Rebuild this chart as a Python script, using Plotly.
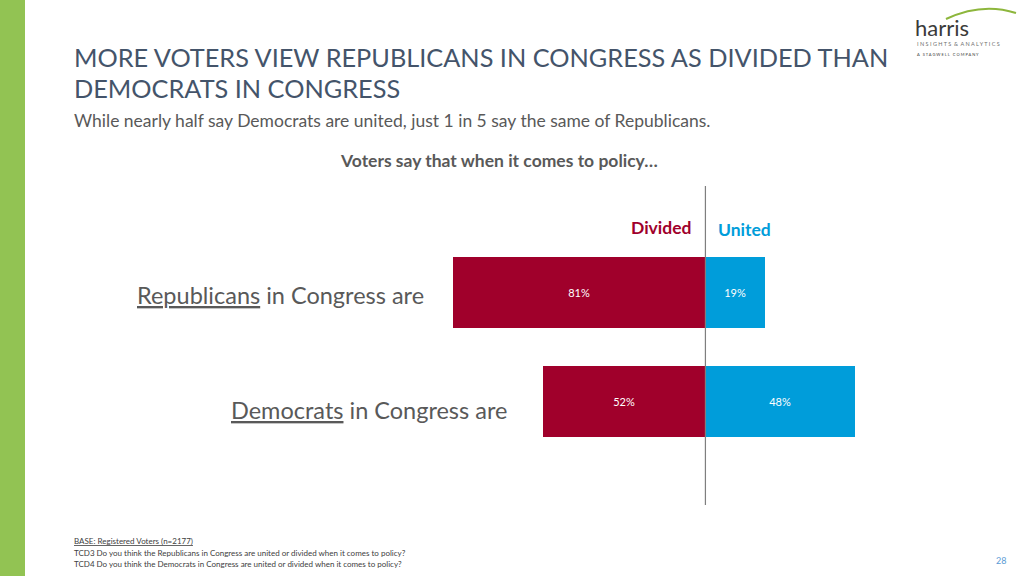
import plotly.graph_objects as go

categories = ["Republicans", "Democrats"]
divided = [81, 52]
united = [19, 48]

RED = "#A0002B"
BLUE = "#009DDA"
GRAY = "#595959"
TITLE = "#44546A"
FONT = "Lato, Open Sans, sans-serif"

W, H = 1024, 576

fig = go.Figure()
fig.add_trace(go.Bar(
    y=categories, x=[-v for v in divided], orientation="h",
    marker=dict(color=RED, line=dict(width=0)), width=0.65,
    text=[f"{v}%" for v in divided], textposition="inside", insidetextanchor="middle",
    textfont=dict(color="white", size=11, family=FONT), name="Divided", hoverinfo="skip"))
fig.add_trace(go.Bar(
    y=categories, x=united, orientation="h",
    marker=dict(color=BLUE, line=dict(width=0)), width=0.65,
    text=[f"{v}%" for v in united], textposition="inside", insidetextanchor="middle",
    textfont=dict(color="white", size=11, family=FONT), name="United", hoverinfo="skip"))

x0, x1 = 453, 855
fig.update_layout(
    width=W, height=H, margin=dict(l=0, r=0, t=0, b=0),
    paper_bgcolor="white", plot_bgcolor="white",
    barmode="relative", showlegend=False, bargap=0,
    font=dict(family=FONT, color=GRAY),
    xaxis=dict(domain=[x0 / W, x1 / W], range=[-divided[0], united[1]],
               showgrid=False, zeroline=False, showticklabels=False, ticks="", fixedrange=True),
    yaxis=dict(domain=[1 - 505 / H, 1 - 186 / H], type="category", categoryarray=categories,
               range=[1.95, -0.977], showgrid=False, zeroline=False,
               showticklabels=False, ticks="", fixedrange=True),
)

def px(x):
    return x / W

def py(y):
    return 1 - y / H

shapes = [
    dict(type="rect", xref="paper", yref="paper", x0=0, x1=25 / W, y0=0, y1=1,
         fillcolor="#92C353", line=dict(width=0), layer="below"),
    dict(type="line", xref="x", yref="paper", x0=0, x1=0, y0=py(505), y1=py(186),
         line=dict(color="#7F7F7F", width=1.2), layer="above"),
    # logo arc
    dict(type="path", xref="paper", yref="paper",
         path=f"M {px(946)},{py(19)} Q {px(982)},{py(2)} {px(1016)},{py(13)}",
         line=dict(color="#8DB63C", width=2)),
]

ann = [
    dict(x=px(72), y=py(57), text="MORE VOTERS VIEW REPUBLICANS IN CONGRESS AS DIVIDED THAN",
         xanchor="left", yanchor="middle", font=dict(size=25.3, color=TITLE)),
    dict(x=px(72), y=py(88), text="DEMOCRATS IN CONGRESS",
         xanchor="left", yanchor="middle", font=dict(size=25.3, color=TITLE)),
    dict(x=px(72), y=py(120), text="While nearly half say Democrats are united, just 1 in 5 say the same of Republicans.",
         xanchor="left", yanchor="middle", font=dict(size=17.5, color=GRAY)),
    dict(x=px(499), y=py(160), text="<b>Voters say that when it comes to policy…</b>",
         xanchor="center", yanchor="middle", font=dict(size=17.5, color=GRAY)),
    dict(x=px(694), y=py(228), text="<b>Divided</b>", xanchor="right", yanchor="middle",
         font=dict(size=17.5, color=RED)),
    dict(x=px(716), y=py(229), text="<b>United</b>", xanchor="left", yanchor="middle",
         font=dict(size=17.5, color=BLUE)),
    dict(x=px(426), y=py(295), text=f"<u>{categories[0]}</u> in Congress are", xanchor="right",
         yanchor="middle", font=dict(size=23.5, color=GRAY)),
    dict(x=px(509), y=py(410), text=f"<u>{categories[1]}</u> in Congress are", xanchor="right",
         yanchor="middle", font=dict(size=23.5, color=GRAY)),
    dict(x=px(72), y=py(541), text="<u>BASE: Registered Voters (n=2177)</u>", xanchor="left",
         yanchor="middle", font=dict(size=8, color="#404040")),
    dict(x=px(72), y=py(553), text="TCD3 Do you think the Republicans in Congress are united or divided when it comes to policy?",
         xanchor="left", yanchor="middle", font=dict(size=8, color="#404040")),
    dict(x=px(72), y=py(564), text="TCD4 Do you think the Democrats in Congress are united or divided when it comes to policy?",
         xanchor="left", yanchor="middle", font=dict(size=8, color="#404040")),
    dict(x=px(1001), y=py(560), text="28", xanchor="center", yanchor="middle",
         font=dict(size=9, color="#5B9BD5")),
    # logo
    dict(x=px(913), y=py(27), text="harris", xanchor="left", yanchor="middle",
         font=dict(size=22, color="#3A3A3A", family="Lato, sans-serif")),
    dict(x=px(915), y=py(44), text="I N S I G H T S  &amp;  A N A L Y T I C S", xanchor="left",
         yanchor="middle", font=dict(size=5.5, color="#6E6E6E")),
    dict(x=px(915), y=py(54), text="A   S T A G W E L L   C O M P A N Y", xanchor="left",
         yanchor="middle", font=dict(size=4, color="#3A3A3A")),
]
for a in ann:
    a.update(xref="paper", yref="paper", showarrow=False)

fig.update_layout(shapes=shapes, annotations=ann)
fig.write_html("out.html", config={"displayModeBar": False},
               post_script="document.body.style.margin='0px';document.body.style.padding='0px';")
